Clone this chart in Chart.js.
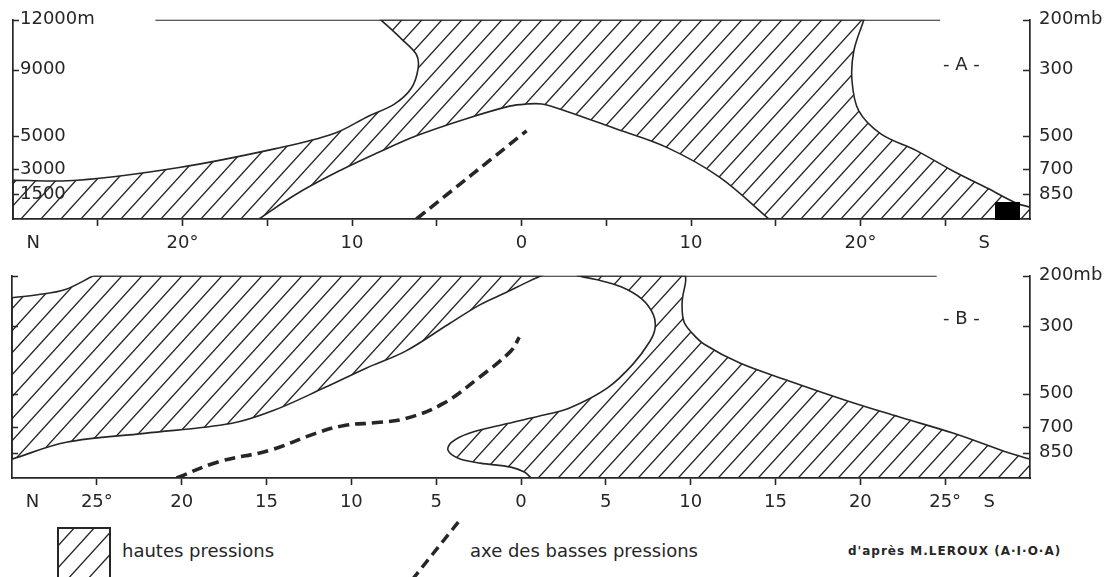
<!DOCTYPE html>
<html lang="fr">
<head>
<meta charset="utf-8">
<script src="https://cdn.jsdelivr.net/npm/chart.js@4.4.1/dist/chart.umd.min.js"></script>
<style>
  body { margin:0; width:1120px; height:577px; background:#fff; position:relative; overflow:hidden;
         font-family:"DejaVu Sans", sans-serif; color:#262626; }
  .cadre { position:absolute; left:0; width:1120px; }
  #cadreA { top:0; height:256px; }
  #cadreB { top:256px; height:262px; }
  .txt { position:absolute; font-size:18px; line-height:22px; white-space:nowrap; }
  .credit { position:absolute; font-size:12px; font-weight:bold; line-height:14px; white-space:nowrap; letter-spacing:1px; }
  #cache { position:absolute; left:995px; top:202px; width:25px; height:18px; background:#000; }
</style>
</head>
<body>
<div class="cadre" id="cadreA"><canvas id="grafA" width="1120" height="256"></canvas></div>
<div class="cadre" id="cadreB"><canvas id="grafB" width="1120" height="262"></canvas></div>

<div class="txt" style="left:943px;top:53px">- A -</div>
<div class="txt" style="left:943px;top:307px">- B -</div>
<div id="cache"></div>

<canvas id="legHach" width="56" height="52" style="position:absolute;left:56px;top:526px"></canvas>
<div class="txt" style="left:122px;top:540px">hautes pressions</div>
<svg style="position:absolute;left:400px;top:510px" width="70" height="67">
  <line x1="12" y1="70" x2="60" y2="10" stroke="#262626" stroke-width="3.5" stroke-dasharray="10 6"/>
</svg>
<div class="txt" style="left:470px;top:540px">axe des basses pressions</div>
<div class="credit" style="left:848px;top:544px">d'après M.LEROUX (A·I·O·A)</div>

<script>
const encre = "#262626";
const police = { family: "DejaVu Sans", size: 18 };

// latitude : négatif = nord, positif = sud ; altitude en mètres
const niveaux = [12000, 9000, 5000, 3000, 1500];
const etiquettesMetres = ["12000m", "9000", "5000", "3000", "1500"];
const etiquettesMb = ["200mb", "300", "500", "700", "850"];

const latitudesA = [-28.8, -25, -20, -15, -10, -5, 0, 5, 10, 15, 20, 25, 27.3];
const etiquettesLatA = ["N", "", "20°", "", "10", "", "0", "", "10", "", "20°", "", "S"];
const latitudesB = [-28.8, -25, -20, -15, -10, -5, 0, 5, 10, 15, 20, 25, 27.6];
const etiquettesLatB = ["N", "25°", "20", "15", "10", "5", "0", "5", "10", "15", "20", "25°", "S"];

// - A - : zone de hautes pressions (contour fermé, coins répétés)
const hautesPressionsA = [
  [-30,0],[-30,0],[-30,2330],[-30,2330],
  [-26.2,2330],[-20.2,3100],[-14.5,4240],[-11.1,5130],[-9.0,6210],[-7.5,6925],[-6.5,7880],
  [-6.1,9075],[-6.2,9910],[-7.1,10865],[-8.3,12000],[-8.3,12000],
  [20.2,12000],[20.2,12000],
  [19.6,10090],[19.5,8300],[19.9,6510],[21.2,5130],[23.3,4120],[25.4,2925],[27.5,1850],[29.2,955],
  [30,716],[30,716],[30,0],[30,0],
  [14.6,0],[14.6,0],
  [11.7,2510],[8.6,4300],[5.4,5490],[2.6,6510],[1.2,6925],[0.3,6925],[-0.7,6800],[-3.3,6030],
  [-6.2,5015],[-8.6,3940],[-10.7,2925],[-13.2,1550],[-15.5,0],[-15.5,0]
];
const basseA = [[-6.2,0],[0.3,5310]];
const sommetA = [[-21.6,12000],[24.7,12000]];

// - B -
const hautesPressionsB1 = [
  [-30,1120],[-30,1120],[-30,10700],[-30,10700],
  [-28.5,10880],[-26.9,11170],[-25.2,12000],[-25.2,12000],
  [1.2,12000],[1.2,12000],
  [0.4,11640],[-0.8,11050],[-2.4,10290],[-4.3,9110],[-6.8,7530],[-9.1,6530],[-11.6,5350],
  [-14.6,4000],[-17.1,3230],[-22.2,2650],[-26.8,2120],[-30,1120],[-30,1120]
];
const hautesPressionsB2 = [
  [0.6,0],[0.6,0],
  [0.2,353],[-0.6,647],[-2.4,882],[-3.7,1176],[-4.3,1646],[-4.1,2117],[-3.1,2646],[-0.8,3234],
  [1.2,3704],[2.9,4175],[5.1,5350],[6.6,6760],[7.6,8115],[7.9,8880],[7.8,9700],[7.1,10640],
  [5.9,11350],[4.5,11760],[3.3,12000],[3.3,12000],
  [9.7,12000],[9.7,12000],
  [9.7,11640],[9.5,10470],[9.6,9290],[10.1,8585],[10.8,7940],[12.9,6820],[15.8,5760],[19.2,4590],
  [22.4,3590],[25.5,2650],[28.3,1650],[29.8,1176],[30,1117],[30,1117],[30,0],[30,0]
];
const basseB = [[-20.3,0],[-17.9,940],[-14.8,1650],[-12.1,2650],[-10.4,3120],[-8.5,3290],
  [-6.8,3530],[-4.6,4410],[-2.5,5940],[-0.6,7530],[-0.1,8350]];
const sommetB = [[-25.2,12000],[24.5,12000]];

const pts = liste => liste.map(([x, y]) => ({ x, y }));

function hachures(ctx) {
  const c = document.createElement("canvas");
  c.width = 20; c.height = 22;
  const g = c.getContext("2d");
  g.strokeStyle = encre; g.lineWidth = 1.35;
  g.beginPath();
  g.moveTo(-2, 24.2); g.lineTo(22, -2.2);
  g.moveTo(-2, 2.2); g.lineTo(2, -2.2);
  g.moveTo(18, 24.2); g.lineTo(22, 19.8);
  g.stroke();
  return ctx.createPattern(c, "repeat");
}

// petits tirets tournés vers l'intérieur sur les axes verticaux
const tiretsInternes = {
  id: "tiretsInternes",
  afterDatasetsDraw(chart) {
    const { ctx, chartArea, scales } = chart;
    ctx.save();
    ctx.strokeStyle = encre; ctx.lineWidth = 1.6;
    ctx.beginPath();
    scales.yG.ticks.forEach(t => {
      const y = Math.round(scales.yG.getPixelForValue(t.value)) + 0.5;
      ctx.moveTo(chartArea.left, y); ctx.lineTo(chartArea.left + 6, y);
    });
    scales.yD.ticks.forEach(t => {
      const y = Math.round(scales.yD.getPixelForValue(t.value)) + 0.5;
      ctx.moveTo(chartArea.right - 7, y); ctx.lineTo(chartArea.right, y);
    });
    ctx.stroke();
    ctx.restore();
  }
};

function creerGraphique(id, zones, axe, sommet, latitudes, etiquettesLat, etiquettesGauche, largeurGauche, hauteurBas) {
  const canvas = document.getElementById(id);
  const motif = hachures(canvas.getContext("2d"));
  const datasets = zones.map(z => ({
    data: pts(z), yAxisID: "yG", fill: "shape", backgroundColor: motif,
    borderColor: encre, borderWidth: 1.6, tension: 0.35, pointRadius: 0
  }));
  datasets.push({ data: pts(sommet), yAxisID: "yG", borderColor: encre, borderWidth: 1.7, pointRadius: 0, fill: false });
  datasets.push({ data: pts(axe), yAxisID: "yG", borderColor: encre, borderWidth: 3.6, borderDash: [11, 6],
    pointRadius: 0, fill: false, tension: 0.4 });

  const axeVertical = (position, etiquettes, largeur, padding, mirror) => ({
    position, min: 0, max: 12000,
    afterBuildTicks: s => { s.ticks = niveaux.map(v => ({ value: v })); },
    afterFit: s => { s.width = largeur; },
    ticks: { mirror, padding, font: police, color: encre, callback: (v, i) => etiquettes ? etiquettes[i] : "" },
    grid: { drawOnChartArea: false, drawTicks: false },
    border: { color: encre, width: 1.7 }
  });

  new Chart(canvas, {
    type: "line",
    data: { datasets },
    options: {
      responsive: false, animation: false,
      layout: { padding: { top: 18, left: 0, right: 0, bottom: 0 } },
      plugins: { legend: { display: false }, tooltip: { enabled: false } },
      scales: {
        x: {
          type: "linear", min: -30, max: 30,
          afterBuildTicks: s => { s.ticks = latitudes.map(v => ({ value: v })); },
          afterFit: s => { s.height = hauteurBas; },
          ticks: { autoSkip: false, maxRotation: 0, padding: 7, font: police, color: encre,
            callback: (v, i) => etiquettesLat[i] },
          grid: { drawOnChartArea: false, tickLength: 7, tickWidth: 1.6,
            tickColor: c => (c.tick && c.tick.value % 5 === 0 ? encre : "rgba(0,0,0,0)") },
          border: { color: encre, width: 1.7 }
        },
        yG: axeVertical("left", etiquettesGauche, largeurGauche, 7, true),
        yD: axeVertical("right", etiquettesMb, 90, 9, false)
      }
    },
    plugins: [tiretsInternes]
  });
}

creerGraphique("grafA", [hautesPressionsA], basseA, sommetA, latitudesA, etiquettesLatA, etiquettesMetres, 13, 37);
creerGraphique("grafB", [hautesPressionsB1, hautesPressionsB2], basseB, sommetB, latitudesB, etiquettesLatB, null, 12, 40);

// case de légende hachurée
const lg = document.getElementById("legHach").getContext("2d");
lg.fillStyle = hachures(lg);
lg.fillRect(2, 2, 52, 52);
lg.strokeStyle = encre; lg.lineWidth = 2;
lg.strokeRect(2, 2, 52, 52);
</script>
</body>
</html>
